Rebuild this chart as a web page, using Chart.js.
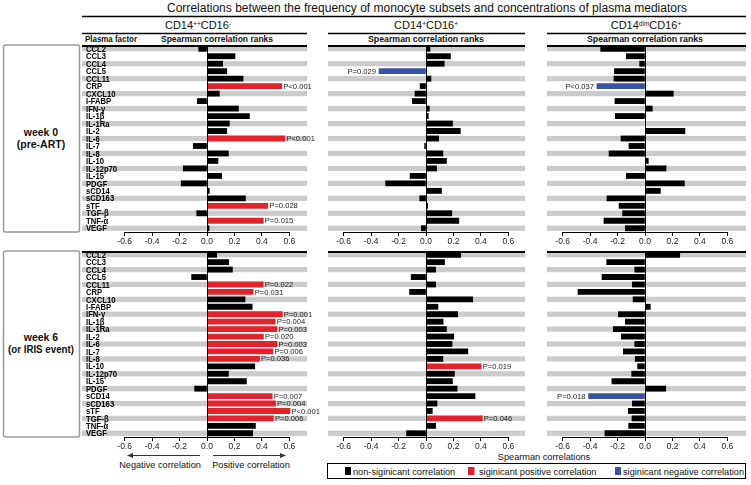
<!DOCTYPE html>
<html><head><meta charset="utf-8">
<script src="https://cdn.jsdelivr.net/npm/chart.js@4.4.1/dist/chart.umd.min.js"></script>
<style>
html,body{margin:0;padding:0;background:#fff;}
#wrap{position:relative;width:751px;height:485px;overflow:hidden;font-family:"Liberation Sans",Arial,sans-serif;}
canvas{position:absolute;}
svg{position:absolute;left:0;top:0;}
</style></head><body><div id="wrap">
<svg width="751" height="485" font-family="Liberation Sans, Arial, sans-serif" fill="#111">
  <text x="427" y="12" text-anchor="middle" font-size="12" textLength="520" lengthAdjust="spacingAndGlyphs">Correlations between the frequency of monocyte subsets and concentrations of plasma mediators</text>
  <line x1="82" y1="16.5" x2="746" y2="16.5" stroke="#000" stroke-width="1.3"/>
  <text x="198" y="29" text-anchor="middle" font-size="11">CD14<tspan dy="-3.5" font-size="6.5">++</tspan><tspan dy="3.5">CD16</tspan><tspan dy="-3.5" font-size="6.5">-</tspan></text>
  <text x="426" y="29" text-anchor="middle" font-size="11">CD14<tspan dy="-3.5" font-size="6.5">+</tspan><tspan dy="3.5">CD16</tspan><tspan dy="-3.5" font-size="6.5">+</tspan></text>
  <text x="646" y="29" text-anchor="middle" font-size="11">CD14<tspan dy="-3.5" font-size="6.5">dim</tspan><tspan dy="3.5">CD16</tspan><tspan dy="-3.5" font-size="6.5">+</tspan></text>
  <line x1="82" y1="33.5" x2="307" y2="33.5" stroke="#000" stroke-width="1.3"/>
  <line x1="328" y1="33.5" x2="525" y2="33.5" stroke="#000" stroke-width="1.3"/>
  <line x1="547" y1="33.5" x2="746" y2="33.5" stroke="#000" stroke-width="1.3"/>
  <text x="85" y="42" font-size="9.5" font-weight="bold" textLength="52" lengthAdjust="spacingAndGlyphs">Plasma factor</text>
  <text x="217" y="42" text-anchor="middle" font-size="9.5" font-weight="bold" textLength="112" lengthAdjust="spacingAndGlyphs">Spearman correlation ranks</text>
  <text x="426" y="42" text-anchor="middle" font-size="9.5" font-weight="bold" textLength="116" lengthAdjust="spacingAndGlyphs">Spearman correlation ranks</text>
  <text x="645" y="42" text-anchor="middle" font-size="9.5" font-weight="bold" textLength="116" lengthAdjust="spacingAndGlyphs">Spearman correlation ranks</text>
  <rect x="3.5" y="45" width="76" height="187" rx="2" fill="none" stroke="#9a9a9a" stroke-width="1.5"/>
  <text x="41" y="136" text-anchor="middle" font-size="10.5" font-weight="bold">week 0</text>
  <text x="41" y="148" text-anchor="middle" font-size="10.5" font-weight="bold">(pre-ART)</text>
  <rect x="3.5" y="251" width="76" height="186" rx="2" fill="none" stroke="#9a9a9a" stroke-width="1.5"/>
  <text x="41" y="341" text-anchor="middle" font-size="10.5" font-weight="bold">week 6</text>
  <text x="41" y="353" text-anchor="middle" font-size="10.5" font-weight="bold" textLength="66" lengthAdjust="spacingAndGlyphs">(or IRIS event)</text>
  <line x1="200" y1="455.5" x2="132" y2="455.5" stroke="#333" stroke-width="1"/>
  <path d="M127,455.5 L133,453 L133,458 Z" fill="#333"/>
  <line x1="213" y1="455.5" x2="281" y2="455.5" stroke="#333" stroke-width="1"/>
  <path d="M286,455.5 L280,453 L280,458 Z" fill="#333"/>
  <text x="160" y="468" text-anchor="middle" font-size="9.2">Negative correlation</text>
  <text x="251" y="468" text-anchor="middle" font-size="9.2">Positive correlation</text>
  <text x="544" y="460" text-anchor="middle" font-size="9.2">Spearman correlations</text>
  <rect x="327.5" y="463.5" width="418" height="15" fill="none" stroke="#000" stroke-width="1"/>
  <rect x="345" y="467" width="6" height="8" fill="#000"/>
  <text x="353" y="474.5" font-size="9.2">non-siginicant correlation</text>
  <rect x="468" y="467" width="6.5" height="8" fill="#e2232b"/>
  <text x="479" y="474.5" font-size="9.2">siginicant positive correlation</text>
  <rect x="615" y="467" width="6" height="8" fill="#3853a4"/>
  <text x="623" y="474.5" font-size="9.2">siginicant negative correlation</text>
</svg>
</div>
<script>
const factors = ['CCL2','CCL3','CCL4','CCL5','CCL11','CRP','CXCL10','I-FABP','IFN-γ','IL-1β','IL-1Ra','IL-2','IL-6','IL-7','IL-8','IL-10','IL-12p70','IL-15','PDGF','sCD14','sCD163','sTF','TGF-β','TNF-α','VEGF'];
const xTicks = [-0.6,-0.4,-0.2,0,0.2,0.4,0.6];

// week 0 (pre-ART)
const w0_CD14hiCD16neg = [-0.06,0.204,0.114,0.144,0.263,0.545,0.09,-0.07,0.229,0.309,0.163,0.144,0.567,-0.10,0.156,0.08,-0.173,0.107,-0.188,0.017,0.28,0.443,-0.075,0.41,0.015];
const w0_CD14posCD16pos = [0.029,0.178,0.133,-0.342,0.036,-0.043,-0.08,-0.099,0.024,0.017,0.193,0.25,0.092,-0.01,0.123,0.149,0.077,-0.116,-0.294,0.113,-0.046,0.012,0.188,0.239,-0.034];
const w0_CD14dimCD16pos = [-0.323,-0.136,-0.039,-0.223,-0.226,-0.35,0.206,-0.219,0.053,-0.216,0.003,0.291,-0.175,-0.117,-0.262,0.024,0.153,-0.136,0.287,0.112,-0.277,-0.189,-0.163,-0.299,-0.143];
// week 6 (or IRIS event)
const w6_CD14hiCD16neg = [0.071,0.158,0.185,-0.112,0.409,0.336,0.277,0.329,0.548,0.497,0.509,0.411,0.509,0.48,0.382,0.348,0.156,0.287,-0.09,0.475,0.499,0.604,0.484,0.353,0.333];
const w6_CD14posCD16pos = [0.253,0.135,0.07,-0.108,0.07,-0.12,0.34,0.087,0.231,0.125,0.149,0.202,0.19,0.305,0.123,0.402,0.207,0.193,0.227,0.357,0.08,0.046,0.41,0.07,-0.142];
const w6_CD14dimCD16pos = [0.253,-0.279,-0.075,-0.313,-0.092,-0.488,-0.087,0.039,-0.194,-0.143,-0.231,-0.172,-0.075,-0.158,-0.071,-0.054,-0.097,-0.241,0.151,-0.411,-0.092,-0.122,-0.095,-0.119,-0.292];

// significant correlations (P values)
const w0_CD14hiCD16neg_P = [['CRP','P<0.001'],['IL-6','P<0.001'],['sTF','P=0.028'],['TNF-α','P=0.015']];
const w0_CD14posCD16pos_P = [['CCL5','P=0.029']];
const w0_CD14dimCD16pos_P = [['CRP','P<0.037']];
const w6_CD14hiCD16neg_P = [['CCL11','P=0.022'],['CRP','P=0.031'],['IFN-γ','P=0.001'],['IL-1β','P=0.004'],['IL-1Ra','P=0.003'],['IL-2','P=0.020'],['IL-6','P=0.003'],['IL-7','P=0.006'],['IL-8','P=0.036'],['sCD14','P=0.007'],['sCD163','P=0.004'],['sTF','P<0.001'],['TGF-β','P=0.006']];
const w6_CD14posCD16pos_P = [['IL-10','P=0.019'],['TGF-β','P=0.046']];
const w6_CD14dimCD16pos_P = [['sCD14','P=0.018']];

const FONT = '"Liberation Sans", Arial, sans-serif';
const BLACK = '#000000', RED = '#e2232b', BLUE = '#3853a4', STRIPE = '#cbcbcb';
const PX = 137.3, AXIS_H = 18, BAR_T = 5.2, STRIPE_H = 5.2, PAD_R = 40;

const layout = [
  {vals:w0_CD14hiCD16neg, p:w0_CD14hiCD16neg_P, left:82, right:307, zero:207, top:45, bottom:232, labels:true},
  {vals:w0_CD14posCD16pos, p:w0_CD14posCD16pos_P, left:328, right:525, zero:426, top:45, bottom:232},
  {vals:w0_CD14dimCD16pos, p:w0_CD14dimCD16pos_P, left:547, right:746, zero:645, top:45, bottom:232},
  {vals:w6_CD14hiCD16neg, p:w6_CD14hiCD16neg_P, left:82, right:307, zero:207, top:251, bottom:437, labels:true},
  {vals:w6_CD14posCD16pos, p:w6_CD14posCD16pos_P, left:328, right:525, zero:426, top:251, bottom:437},
  {vals:w6_CD14dimCD16pos, p:w6_CD14dimCD16pos_P, left:547, right:746, zero:645, top:251, bottom:437}
];

const wrap = document.getElementById('wrap');

function panelPlugin(cfg, pmap, k){
  return {
    id:'panel'+k,
    beforeDatasetsDraw(chart){
      const {ctx, chartArea:a, scales:{y}} = chart;
      ctx.save();
      ctx.fillStyle = STRIPE;
      factors.forEach((f,i)=>{
        if(i%2===0){
          const yy = y.getPixelForValue(i);
          ctx.fillRect(a.left, yy-STRIPE_H/2, a.right-a.left, STRIPE_H);
        }
      });
      ctx.restore();
    },
    afterDatasetsDraw(chart){
      const {ctx, chartArea:a, scales:{x,y}} = chart;
      ctx.save();
      ctx.strokeStyle = '#000';
      const x0 = Math.round(x.getPixelForValue(0))+0.5;
      ctx.lineWidth = 1;
      ctx.beginPath(); ctx.moveTo(x0, a.top); ctx.lineTo(x0, a.bottom); ctx.stroke();
      ctx.lineWidth = 2;
      ctx.beginPath(); ctx.moveTo(a.left, a.top+1); ctx.lineTo(a.right, a.top+1); ctx.stroke();
      ctx.lineWidth = 1;
      ctx.beginPath(); ctx.moveTo(x.getPixelForValue(-0.6), a.bottom+0.5); ctx.lineTo(x.getPixelForValue(0.6), a.bottom+0.5); ctx.stroke();
      // P value labels
      ctx.font = '7.6px '+FONT;
      ctx.fillStyle = '#222';
      ctx.textBaseline = 'middle';
      factors.forEach((f,i)=>{
        const lab = pmap[f];
        if(!lab) return;
        const v = cfg.vals[i];
        const xe = x.getPixelForValue(v), yy = y.getPixelForValue(i)+0.5;
        if(v>=0){ ctx.textAlign='left'; ctx.fillText(lab, xe+1.5, yy); }
        else { ctx.textAlign='right'; ctx.fillText(lab, xe-3, yy); }
      });
      // category labels
      if(cfg.labels){
        ctx.font = 'bold 9.6px '+FONT;
        ctx.fillStyle = '#000';
        ctx.textAlign = 'left';
        factors.forEach((f,i)=>{
          const yy = y.getPixelForValue(i)+0.5;
          ctx.save(); ctx.translate(a.left+4, yy); ctx.scale(0.8,1); ctx.fillText(f, 0, 0); ctx.restore();
        });
      }
      ctx.restore();
    }
  };
}

layout.forEach((cfg,k)=>{
  const c = document.createElement('canvas');
  const w = cfg.right-cfg.left+PAD_R, h = cfg.bottom-cfg.top+AXIS_H;
  c.width = w; c.height = h;
  c.style.left = cfg.left+'px'; c.style.top = cfg.top+'px';
  c.style.width = w+'px'; c.style.height = h+'px';
  wrap.appendChild(c);
  const min = -(cfg.zero-cfg.left)/PX, max = (cfg.right-cfg.zero)/PX;
  const pmap = Object.fromEntries(cfg.p);
  const colors = cfg.vals.map((v,i)=> pmap[factors[i]] ? (v>0?RED:BLUE) : BLACK);
  new Chart(c, {
    type:'bar',
    data:{labels:factors, datasets:[{data:cfg.vals, backgroundColor:colors, borderWidth:0, barThickness:BAR_T}]},
    options:{
      indexAxis:'y', responsive:false, animation:false, devicePixelRatio:1,
      layout:{padding:{left:0,right:PAD_R,top:0,bottom:0}},
      plugins:{legend:{display:false}, tooltip:{enabled:false}},
      scales:{
        y:{display:false},
        x:{min:min, max:max,
           afterBuildTicks(s){ s.ticks = xTicks.map(v=>({value:v})); },
           afterFit(s){ s.height = AXIS_H; },
           grid:{drawOnChartArea:false, drawTicks:true, tickLength:4, color:'#000', lineWidth:1},
           border:{display:false},
           ticks:{padding:1, font:{family:FONT,size:8.5}, color:'#222', autoSkip:false, maxRotation:0,
                  callback:v=>Number(v).toFixed(1)}
        }
      }
    },
    plugins:[panelPlugin(cfg,pmap,k)]
  });
});
</script>
</body></html>
